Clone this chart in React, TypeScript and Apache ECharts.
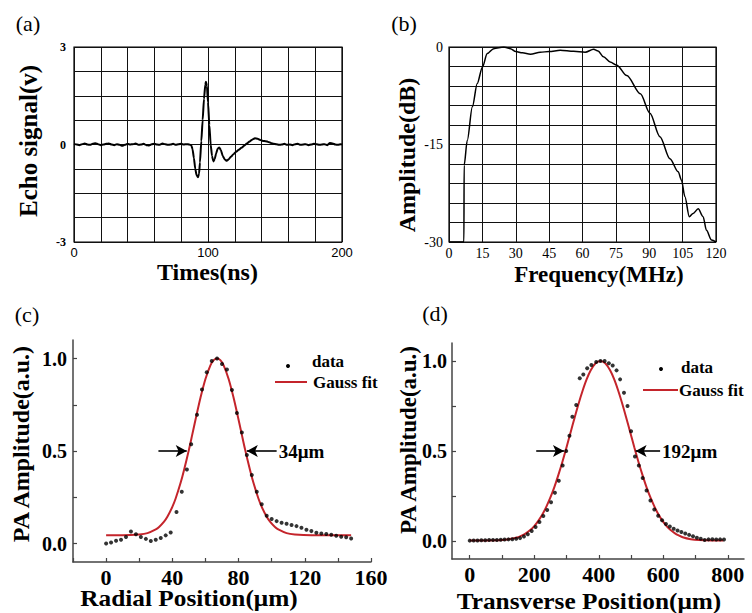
import React, { useEffect, useRef } from "react";
import * as echarts from "echarts";

// ---------- (a) echo signal ----------
const timeA = [0,2,4,6,8,10,12,14,16,18,20,22,24,26,28,30,32,34,36,38,40,42,44,46,48,50,52,54,56,58,60,62,64,66,68,70,72,74,76,78,80,82,84,86,
  87.5,88.5,89.5,90.5,91.5,92.5,93.3,94,95,96,97,98,98.5,99.2,100,101,102,103,104,105,106,107.2,108.4,109.6,111,112.5,114,115.5,117,119,121,123,125,127,129,131,133,135,137,139,141,143,145,147,149,151,
  153,155,157,159,161,163,165,167,169,171,173,175,177,179,181,183,185,187,189,191,193,195,197,199,200];
const voltA = [0.02,0,-0.02,0.01,0.03,0,-0.01,0.02,0.04,0.01,-0.02,0,0.02,0.03,0,-0.02,0.01,-0.01,-0.04,-0.01,0.02,0,0.01,0.03,-0.01,0,0.02,-0.02,-0.03,0.01,0.02,0,-0.01,0.03,0.01,-0.01,0,0.02,-0.01,0.01,0.02,0,0.01,0,
  -0.02,-0.15,-0.42,-0.75,-0.95,-1.01,-0.9,-0.55,0.1,0.75,1.4,1.85,1.93,1.8,1.3,0.6,0,-0.35,-0.52,-0.45,-0.28,-0.13,-0.09,-0.17,-0.35,-0.46,-0.5,-0.45,-0.38,-0.3,-0.22,-0.16,-0.1,-0.04,0.03,0.09,0.15,0.19,0.18,0.14,0.11,0.1,0.08,0.05,0.02,0.01,
  -0.01,0,0.02,-0.01,0,-0.02,0.01,0.02,-0.01,0,0.01,-0.02,0,0.02,0.01,-0.01,0,0.01,-0.02,0.05,0.03,0,-0.01,0.01,0];
const xLabelsA = [0, 100, 200];
const yLabelsA = [-3, 0, 3];

// ---------- (b) frequency response ----------
const freqB = [0,6.7,6.8,8.2,10.5,12.7,15,17.2,20.1,24.6,27.6,30,33,36.6,41,45,50,56,61.2,65,67,69.4,72.4,75.4,79.9,86,90.3,94.8,99.3,103,104.5,106,108,109.7,112,114.2,115.7,118,120];
const ampB = [-30,-30,-18.2,-14.4,-9.2,-5.6,-3.1,-1.0,-0.25,0,-0.25,-0.7,-0.9,-1.1,-0.8,-0.7,-0.5,-0.66,-0.8,-0.35,-0.6,-1.5,-2.3,-2.8,-4.4,-7.2,-10.2,-13.8,-17.2,-19.2,-20.5,-23,-26.1,-25.6,-24.9,-26.1,-28.2,-29.7,-30];
const yLabelsB = [-30, -15, 0];

// ---------- (c) radial profile ----------
const dataCx = [0,3,6,9,12,15,18,21,24,27,30,33,36,39,42.5,45.7,48.8,51.4,54.9,57.9,60.8,63.8,67,70,73,76,79,82,85,88,91,94,97,100,103,106,109,112,115,118,121,124,127,130,133,136,139,142,145,148];
const dataCy = [0,0.005,0.015,0.02,0.035,0.065,0.05,0.035,0.025,0.013,0.02,0.03,0.044,0.06,0.17,0.28,0.4,0.536,0.696,0.832,0.926,0.986,1.0,0.97,0.94,0.83,0.705,0.6,0.478,0.37,0.28,0.212,0.15,0.132,0.121,0.112,0.107,0.1,0.094,0.085,0.074,0.067,0.058,0.054,0.051,0.047,0.042,0.036,0.034,0.027];
const fitCx = [0,10,20,25,30,32,35,37,40,42,45,47,50,52,55,57,60,63,65,67,69,71,74,77,79,82,84,87,89,92,94,97,99,102,104,109,114,124,136,148];
const fitCy = [0.045,0.045,0.049,0.056,0.076,0.089,0.118,0.144,0.198,0.243,0.328,0.395,0.506,0.587,0.71,0.788,0.889,0.963,0.991,1.0,0.991,0.963,0.889,0.788,0.71,0.587,0.506,0.395,0.328,0.243,0.198,0.144,0.118,0.089,0.076,0.056,0.049,0.045,0.045,0.045];
const fwhmC = { left: [31.6, 48.7], right: [103, 85], level: 0.5, text: "34μm" };
const xLabelsC = [0, 40, 80, 120, 160];

// ---------- (d) transverse profile ----------
const dataDx = [0,12,24,36,48,60,72,84,96,108,120,132,144,156,168,180,192,204,216,228,240,252,264,276,288,299,309,318,330,341,352,364,377,392,405,418,431,443,455,466,478,489,500,512,524,536,548,560,572,584,596,608,620,632,644,656,668,680,692,704,716,728,740,752,764,776,788];
const dataDy = [0.002,0.003,0.003,0.004,0.004,0.005,0.005,0.006,0.007,0.008,0.009,0.01,0.012,0.016,0.025,0.038,0.055,0.078,0.105,0.139,0.172,0.215,0.268,0.335,0.42,0.5,0.585,0.69,0.755,0.904,0.925,0.96,0.978,0.995,1.0,1.0,0.988,0.975,0.948,0.898,0.824,0.75,0.61,0.47,0.42,0.35,0.28,0.225,0.175,0.14,0.115,0.095,0.08,0.068,0.058,0.05,0.042,0.034,0.026,0.018,0.012,0.006,0.009,0.01,0.008,0.009,0.008];
const fitDx = [0,50,100,150,162.5,175,187.5,200,212.5,225,237.5,250,262.5,275,287.5,300,312.5,325,337.5,350,362.5,375,390,405,420,435,447.5,460,472.5,485,497.5,510,522.5,535,547.5,560,572.5,585,597.5,610,622.5,635,647.5,660,685,710,750,786];
const fitDy = [0.003,0.003,0.005,0.021,0.031,0.044,0.061,0.083,0.112,0.147,0.191,0.242,0.301,0.369,0.442,0.521,0.603,0.685,0.764,0.836,0.899,0.948,0.987,1.0,0.987,0.948,0.899,0.836,0.764,0.685,0.603,0.521,0.442,0.369,0.301,0.242,0.191,0.147,0.112,0.083,0.061,0.044,0.031,0.021,0.01,0.005,0.003,0.003];
const fwhmD = { left: [206, 292], right: [590, 514], level: 0.5, text: "192μm" };
const xLabelsD = [0, 200, 400, 600, 800];
const yLabelsCD = [0, 0.5, 1.0];

const SERIF = '"Liberation Serif", "Times New Roman", serif';
const RED = "#c4242b";

const zip = (xs: number[], ys: number[]) => xs.map((x, i) => [x, ys[i]]);

function fwhmMarkLine(f: { left: number[]; right: number[]; level: number; text: string }) {
  return {
    silent: true,
    symbol: ["none", "arrow"],
    symbolSize: [9, 11],
    lineStyle: { color: "#000", width: 1.6, type: "solid" },
    label: { show: false },
    emphasis: { disabled: true },
    data: [
      [{ coord: [f.left[0], f.level] }, { coord: [f.left[1], f.level] }],
      [
        {
          coord: [f.right[0], f.level],
          label: {
            show: true,
            position: "start",
            formatter: f.text,
            distance: 2,
            color: "#000",
            fontFamily: SERIF,
            fontWeight: "bold",
            fontSize: 19,
          },
        },
        { coord: [f.right[1], f.level] },
      ],
    ],
  };
}

function text(x: number, y: number, t: string, font: string, rot = 0, scaleX = 1) {
  return {
    type: "text",
    x,
    y,
    rotation: rot,
    scaleX,
    silent: true,
    style: { text: t, font, fill: "#000", align: "center", verticalAlign: "middle" },
  };
}

function legendText(x: number, y: number, t: string) {
  return {
    type: "text",
    silent: true,
    x,
    y,
    style: { text: t, font: `bold 17px ${SERIF}`, fill: "#000", align: "left", verticalAlign: "middle" },
  };
}

export default function App() {
  const ref = useRef<HTMLDivElement>(null);
  useEffect(() => {
    if (!ref.current) return;
    const chart = echarts.init(ref.current, null, { renderer: "svg" });
    const gridLine = { show: true, lineStyle: { color: "#111", width: 1 } };
    const cdAxisLine = { show: true, onZero: false, lineStyle: { color: "#444", width: 1.5 } };
    const cdTick = { show: true, inside: true, length: 4, lineStyle: { color: "#444", width: 1.2 } };
    const option: any = {
      animation: false,
      backgroundColor: "#ffffff",
      grid: [
        { left: 74, top: 47, width: 268, height: 195, show: true, borderColor: "#000", borderWidth: 1.2, containLabel: false },
        { left: 449, top: 47, width: 267, height: 195, show: true, borderColor: "#000", borderWidth: 1.2, containLabel: false },
        { left: 73, top: 340, width: 298, height: 222, containLabel: false },
        { left: 452, top: 343, width: 292, height: 216, containLabel: false },
      ],
      xAxis: [
        {
          gridIndex: 0, type: "value", min: 0, max: 200, interval: 20,
          axisLine: { show: false }, axisTick: { show: false }, splitLine: gridLine,
          axisLabel: {
            margin: 4, color: "#000", fontFamily: '"Liberation Sans", sans-serif', fontSize: 13,
            formatter: (v: number) => (xLabelsA.includes(v) ? String(v) : ""),
          },
        },
        {
          gridIndex: 1, type: "value", min: 0, max: 120, interval: 15,
          axisLine: { show: false }, axisTick: { show: false }, splitLine: gridLine,
          axisLabel: { margin: 4, color: "#000", fontFamily: SERIF, fontSize: 14 },
        },
        {
          gridIndex: 2, type: "value", min: -20, max: 160, interval: 20,
          axisLine: cdAxisLine, axisTick: cdTick, splitLine: { show: false },
          axisLabel: {
            margin: 4, color: "#000", fontFamily: SERIF, fontWeight: "bold", fontSize: 22,
            formatter: (v: number) => (xLabelsC.includes(v) ? String(v) : ""),
          },
        },
        {
          gridIndex: 3, type: "value", min: -55, max: 850,
          axisLine: cdAxisLine,
          axisTick: { ...cdTick, customValues: [0, 100, 200, 300, 400, 500, 600, 700, 800] },
          splitLine: { show: false },
          axisLabel: {
            customValues: xLabelsD,
            margin: 4, color: "#000", fontFamily: SERIF, fontWeight: "bold", fontSize: 22,
          },
        },
      ],
      yAxis: [
        {
          gridIndex: 0, type: "value", min: -3, max: 3, interval: 0.75,
          axisLine: { show: false }, axisTick: { show: false }, splitLine: gridLine,
          axisLabel: {
            margin: 8, color: "#000", fontFamily: SERIF, fontWeight: "bold", fontSize: 12,
            formatter: (v: number) => (yLabelsA.includes(v) ? String(v) : ""),
          },
        },
        {
          gridIndex: 1, type: "value", min: -30, max: 0, interval: 3,
          axisLine: { show: false }, axisTick: { show: false }, splitLine: gridLine,
          axisLabel: {
            margin: 6, color: "#000", fontFamily: SERIF, fontSize: 14,
            formatter: (v: number) => (yLabelsB.includes(v) ? String(v) : ""),
          },
        },
        {
          gridIndex: 2, type: "value", min: -0.1, max: 1.1,
          axisLine: cdAxisLine,
          axisTick: { ...cdTick, customValues: [0, 0.25, 0.5, 0.75, 1.0] },
          splitLine: { show: false },
          axisLabel: {
            customValues: yLabelsCD, margin: 6, color: "#000", fontFamily: SERIF, fontWeight: "bold", fontSize: 20,
            formatter: (v: number) => v.toFixed(1),
          },
        },
        {
          gridIndex: 3, type: "value", min: -0.1, max: 1.1,
          axisLine: cdAxisLine,
          axisTick: { ...cdTick, customValues: [0, 0.25, 0.5, 0.75, 1.0] },
          splitLine: { show: false },
          axisLabel: {
            customValues: yLabelsCD, margin: 5, color: "#000", fontFamily: SERIF, fontWeight: "bold", fontSize: 20,
            formatter: (v: number) => v.toFixed(1),
          },
        },
      ],
      series: [
        {
          name: "echo", type: "line", xAxisIndex: 0, yAxisIndex: 0,
          data: zip(timeA, voltA), showSymbol: false, smooth: 0.2, smoothMonotone: "x",
          lineStyle: { color: "#000", width: 2 },
        },
        {
          name: "spectrum", type: "line", xAxisIndex: 1, yAxisIndex: 1,
          data: zip(freqB, ampB), showSymbol: false, smooth: 0.3, smoothMonotone: "x",
          lineStyle: { color: "#000", width: 1.5 },
        },
        {
          name: "data", type: "scatter", xAxisIndex: 2, yAxisIndex: 2,
          data: zip(dataCx, dataCy), symbol: "circle", symbolSize: 4, itemStyle: { color: "#000" }, z: 3,
        },
        {
          name: "Gauss fit", type: "line", xAxisIndex: 2, yAxisIndex: 2,
          data: zip(fitCx, fitCy), showSymbol: false, smooth: 0.3,
          lineStyle: { color: RED, width: 2 }, z: 2,
          markLine: fwhmMarkLine(fwhmC),
        },
        {
          name: "data", type: "scatter", xAxisIndex: 3, yAxisIndex: 3,
          data: zip(dataDx, dataDy), symbol: "circle", symbolSize: 4, itemStyle: { color: "#000" }, z: 3,
        },
        {
          name: "Gauss fit", type: "line", xAxisIndex: 3, yAxisIndex: 3,
          data: zip(fitDx, fitDy), showSymbol: false, smooth: 0.3,
          lineStyle: { color: RED, width: 2 }, z: 2,
          markLine: fwhmMarkLine(fwhmD),
        },
      ],
      graphic: [
        text(28, 23, "(a)", `22px ${SERIF}`),
        text(404, 23, "(b)", `22px ${SERIF}`),
        text(27, 314, "(c)", `22px ${SERIF}`),
        text(435, 313, "(d)", `22px ${SERIF}`),
        text(28, 141, "Echo signal(v)", `bold 25px ${SERIF}`, Math.PI / 2),
        text(207.5, 272, "Times(ns)", `bold 24px ${SERIF}`),
        text(407, 155, "Amplitude(dB)", `bold 24px ${SERIF}`, Math.PI / 2),
        text(599, 274, "Frequency(MHz)", `bold 23px ${SERIF}`),
        text(21, 444, "PA Amplitude(a.u.)", `bold 24px ${SERIF}`, Math.PI / 2),
        text(408, 440, "PA Amplitude(a.u.)", `bold 23px ${SERIF}`, Math.PI / 2),
        text(189, 598, "Radial Position(μm)", `bold 23px ${SERIF}`, 0, 1.1),
        text(589, 601, "Transverse Position(μm)", `bold 23px ${SERIF}`, 0, 1.1),
        // legends
        { type: "circle", silent: true, shape: { cx: 288, cy: 366, r: 2 }, style: { fill: "#000" } },
        legendText(312, 361, "data"),
        { type: "line", silent: true, shape: { x1: 275, y1: 382, x2: 307, y2: 382 }, style: { stroke: RED, lineWidth: 2 } },
        legendText(313, 382, "Gauss fit"),
        { type: "circle", silent: true, shape: { cx: 661, cy: 369, r: 2 }, style: { fill: "#000" } },
        legendText(681, 367, "data"),
        { type: "line", silent: true, shape: { x1: 643, y1: 390, x2: 678, y2: 390 }, style: { stroke: RED, lineWidth: 2 } },
        legendText(679, 390, "Gauss fit"),
      ],
    };
    chart.setOption(option);
    return () => chart.dispose();
  }, []);
  return <div ref={ref} style={{ position: "fixed", left: 0, top: 0, width: 752, height: 613 }} />;
}
